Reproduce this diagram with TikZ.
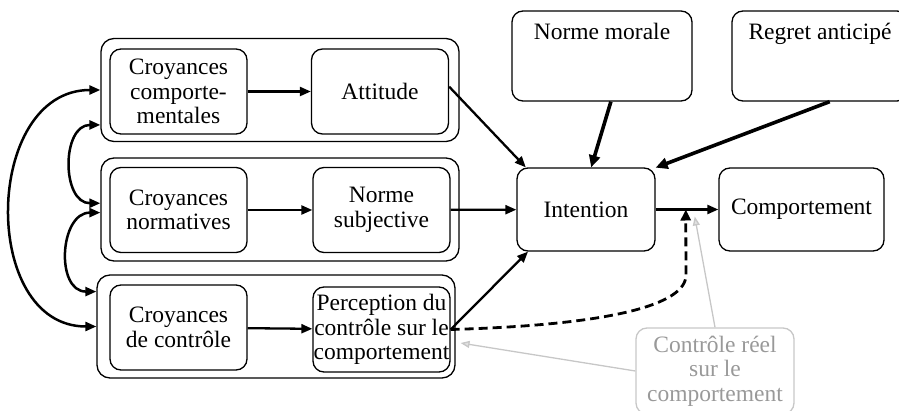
\documentclass[tikz,border=0pt]{standalone}
\usepackage{fontspec}
\setmainfont{Liberation Serif}
\usetikzlibrary{arrows.meta,calc}
\begin{document}
\begin{tikzpicture}[x=1pt,y=-1pt,font=\fontsize{23.5}{24.5}\selectfont,
  box/.style={draw, rounded corners=11pt, line width=1.3pt, align=center, minimum width=137pt, minimum height=85pt, inner sep=1pt},
  grp/.style={draw, rounded corners=13pt, line width=1.3pt, minimum width=358pt, minimum height=103pt},
  topbox/.style={box, minimum width=180pt, minimum height=90pt, text height=16pt, text depth=48pt, inner ysep=13pt},
  arr/.style={line width=2.3pt, -{Triangle[length=11pt,width=9pt]}},
  biarr/.style={line width=2.5pt, {Triangle[length=11pt,width=9pt]}-{Triangle[length=11pt,width=9pt]}},
  fat/.style={line width=3.6pt, -{Triangle[length=12pt,width=11pt]}},
  dsh/.style={line width=2.8pt, dash pattern=on 9pt off 5pt, -{Triangle[length=11pt,width=10pt]}},
  grey/.style={line width=1.3pt, draw=black!22, -{Triangle[length=9pt,width=7pt,fill=black!12]}}]
\useasboundingbox (0,0) rectangle (899,411);
% groups
\node[grp] (g1) at (280,90){};
\node[grp] (g2) at (280,209.5){};
\node[grp] (g3) at (276,326.5){};
% beliefs and determinants
\node[box] (cc) at (178.5,91.5){Croyances\\comporte-\\mentales};
\node[box] (att) at (380,91.5){Attitude};
\node[box] (cn) at (178.5,210){Croyances\\normatives};
\node[box] (ns) at (381.5,210){Norme\\subjective};
\node[box] (cdc) at (178.5,327.5){Croyances\\de contrôle};
\node[box, inner xsep=0pt] (pc) at (381.5,329.5){Perception du\\contrôle sur le\\comportement};
% extensions
\node[topbox] (nm) at (602,56){Norme morale};
\node[topbox, minimum width=176pt] (ra) at (820,56){Regret anticipé};
\node[box, minimum width=138pt, minimum height=83pt] (int) at (586,209.5){Intention};
\node[box, minimum width=165pt, minimum height=83pt] (cmp) at (801.5,209.5){Comportement};
\node[box, draw=black!22, text=black!40, minimum width=158pt, minimum height=86pt] (crc) at (715,371){Contrôle réel\\sur le\\comportement};
\coordinate (jn) at ($(int.east)!0.48!(cmp.west)$);
\coordinate (jg) at ($(jn)+(9,7)$);
% correlations
\draw[biarr] (g1.west) .. controls +(-117,0) and +(-117,0) .. (g3.west);
\draw[biarr] (g1.191) .. controls +(-39,0) and +(-39,0) .. (g2.178);
\draw[biarr] (g2.181) .. controls +(-41,0) and +(-41,0) .. (g3.169);
% paths
\draw[arr] (cc) -- (att);
\draw[arr] (cn) -- (ns);
\draw[arr] (cdc) -- (pc);
\draw[arr] (att.4) -- (int.145);
\draw[arr] (ns) -- (int);
\draw[arr] (pc.east) -- (int.216);
\draw[fat] (nm.281) -- (int.83);
\draw[fat] (ra.282) -- (int.31);
\draw[arr] (int) -- (cmp);
\draw[dsh] (pc.east) .. controls (610,325) and (686,305) .. (686,275) -- (jn);
\draw[grey] (crc.north) -- (jg);
\draw[grey, shorten >=5pt] (crc.west) -- (g3.-5);
\end{tikzpicture}
\end{document}
